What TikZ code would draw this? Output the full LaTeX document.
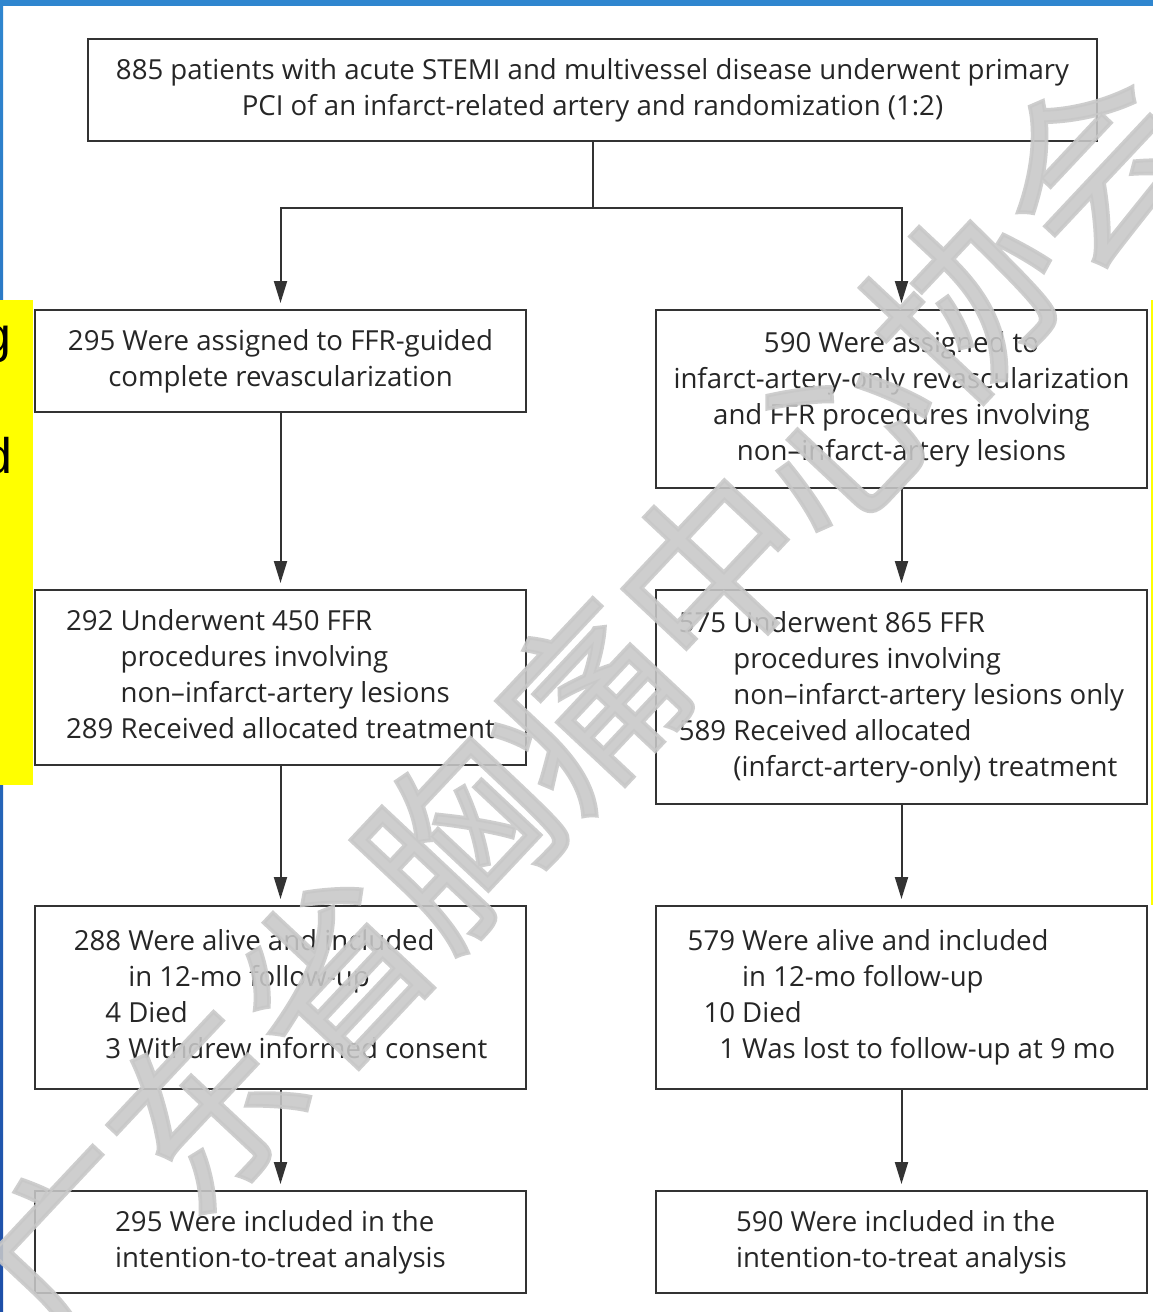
\documentclass[tikz,border=0pt]{standalone}
\usepackage{fontspec}
\setmainfont{Open Sans}
\newfontfamily\arialfont{Liberation Sans}
\newfontfamily\cjkfont[FakeBold=2]{Noto Sans CJK SC}
\usetikzlibrary{arrows.meta,calc}
\definecolor{boxline}{HTML}{333333}
\definecolor{txt}{HTML}{262626}
\definecolor{wmgray}{HTML}{C8C8C8}
\definecolor{edgeblue}{HTML}{2F86CF}
\definecolor{edgeblue2}{HTML}{1E4FA8}
\definecolor{hl}{HTML}{FFFF00}
\begin{document}
\begin{tikzpicture}[x=1pt,y=-1pt,
  box/.style={draw=boxline, line width=2pt, minimum width=491pt, inner sep=0pt, text=txt,
              font=\fontsize{27.6}{36}\selectfont, align=center},
  arr/.style={draw=boxline, line width=2pt, -{Triangle[length=22pt,width=13pt]}, shorten >=6pt},
  link/.style={draw=boxline, line width=2pt},
  cutletter/.style={text=black, font=\arialfont\fontsize{50}{50}\selectfont, inner sep=0pt, anchor=base east}]
\useasboundingbox (0,0) rectangle (1153,1312);
\fill[white] (0,0) rectangle (1153,1312);
% page edges
\fill[edgeblue] (0,0) rectangle (1153,6);
\shade[top color=edgeblue, bottom color=edgeblue2] (0,0) rectangle (3,1312);
% yellow highlight at left and thin line at right
\fill[hl] (0,300) rectangle (33,785);
\fill[hl] (1150.5,300) rectangle (1153,905);
\node[cutletter] (g) at (12,352) {g};
\node[cutletter] (d) at (13,473) {d};

% boxes
\node[box, minimum width=1009pt, minimum height=102pt] (top) at (592.5,90)
  {885 patients with acute STEMI and multivessel disease underwent primary\\
   PCI of an infarct-related artery and randomization (1:2)};

\node[box, minimum height=102pt] (L1) at (280.5,361)
  {295 Were assigned to FFR-guided\\ complete revascularization};
\node[box, minimum height=178pt] (R1) at (901.5,399)
  {590 Were assigned to\\ infarct-artery-only revascularization\\
   and FFR procedures involving\\ non--infarct-artery lesions};

\node[box, minimum height=175pt] (L2) at (280.5,677.5)
  {\begin{tabular}{@{}r@{\ }l@{}}
   292 & Underwent 450 FFR\\
       & procedures involving\\
       & non--infarct-artery lesions\\
   289 & Received allocated treatment
   \end{tabular}};
\node[box, minimum height=214pt] (R2) at (901.5,697)
  {\begin{tabular}{@{}r@{\ }l@{}}
   575 & Underwent 865 FFR\\
       & procedures involving\\
       & non--infarct-artery lesions only\\
   589 & Received allocated\\
       & (infarct-artery-only) treatment
   \end{tabular}};

\node[box, minimum height=183pt] (L3) at (280.5,997.5)
  {\begin{tabular}{@{}r@{\ }l@{}}
   288 & Were alive and included\\
       & in 12-mo follow-up\\
     4 & Died\\
     3 & Withdrew informed consent
   \end{tabular}};
\node[box, minimum height=183pt] (R3) at (901.5,997.5)
  {\begin{tabular}{@{}r@{\ }l@{}}
   579 & Were alive and included\\
       & in 12-mo follow-up\\
    10 & Died\\
     1 & Was lost to follow-up at 9 mo
   \end{tabular}};

\node[box, minimum height=102pt, align=left] (L4) at (280.5,1242)
  {295 Were included in the\\ intention-to-treat analysis};
\node[box, minimum height=102pt, align=left] (R4) at (901.5,1242)
  {590 Were included in the\\ intention-to-treat analysis};

% connectors
\coordinate (split) at (590,208);
\draw[link] (top.south) -- (top.south |- split);
\draw[arr] (top.south |- split) -| (L1.north);
\draw[arr] (top.south |- split) -| (R1.north);
\draw[arr] (L1.south) -- (L2.north);
\draw[arr] (R1.south) -- (R2.north);
\draw[arr] (L2.south) -- (L3.north);
\draw[arr] (R2.south) -- (R3.north);
\draw[arr] (L3.south) -- (L4.north);
\draw[arr] (R3.south) -- (R4.north);

% watermark
\node[rotate=46.8, text=wmgray, opacity=0.88, inner sep=0pt,
      font=\cjkfont\fontsize{185}{185}\selectfont] (wm) at (585,705) {广东省胸痛中心协会};
\end{tikzpicture}
\end{document}
